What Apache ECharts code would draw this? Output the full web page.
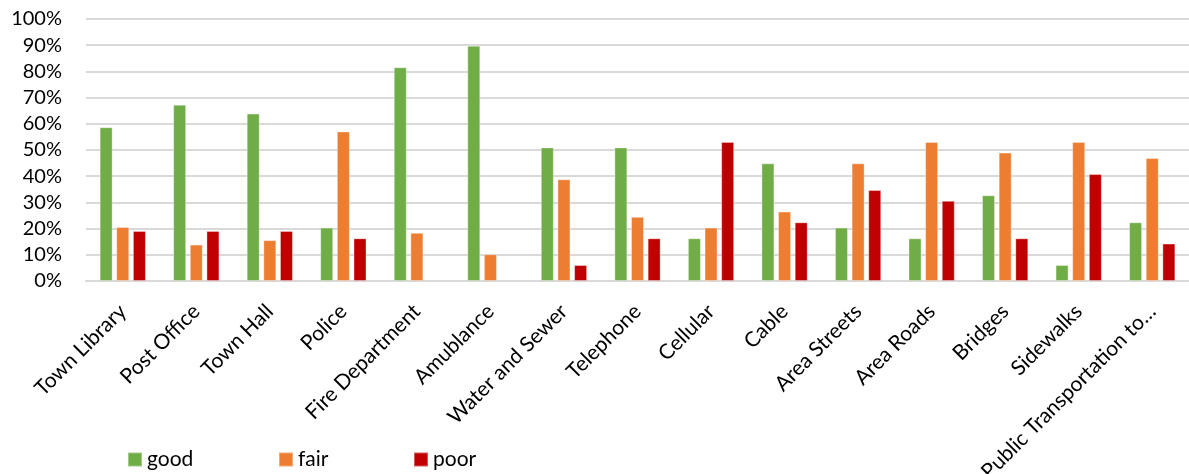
<!DOCTYPE html>
<html>
<head>
<meta charset="utf-8">
<script src="https://cdn.jsdelivr.net/npm/echarts@6/dist/echarts.min.js"></script>
<style>
html,body{margin:0;padding:0;background:#fff;}
#chart{width:1189px;height:474px;}
</style>
</head>
<body>
<div id="chart"></div>
<script>
const categories = ["Town Library","Post Office","Town Hall","Police","Fire Department","Amublance","Water and Sewer","Telephone","Cellular","Cable","Area Streets","Area Roads","Bridges","Sidewalks","Public Transportation to…"];
const good = [58.7,67.3,63.9,20.4,81.6,89.8,51.0,51.0,16.3,44.9,20.4,16.3,32.7,6.1,22.4];
const fair = [20.6,13.9,15.6,57.1,18.4,10.2,38.8,24.5,20.4,26.5,44.9,53.1,49.0,53.1,46.9];
const poor = [19.1,19.1,19.1,16.3,null,null,6.1,16.3,53.1,22.4,34.7,30.6,16.3,40.8,14.3];
const yTicks = [0,10,20,30,40,50,60,70,80,90,100];

const chart = echarts.init(document.getElementById('chart'));
const font = 'Lato, "Open Sans", sans-serif';
const mk = (name, data, color) => ({
  name, type: 'bar', data, barWidth: 13, barGap: '28%',
  itemStyle: { color, borderColor: 'rgba(255,255,255,0.35)', borderWidth: 1 }
});
const legendItem = (name, left) => ({
  data: [name], left, top: 449, padding: 0, itemWidth: 14, itemHeight: 14, itemGap: 0,
  icon: 'rect', textStyle: { fontFamily: font, fontSize: 21, color: '#000' }
});
chart.setOption({
  animation: false,
  grid: { left: 86, right: 0, top: 19, bottom: 193, containLabel: false, outerBoundsMode: 'none' },
  legend: [legendItem('good', 127), legendItem('fair', 278), legendItem('poor', 413)],
  xAxis: {
    type: 'category', data: categories,
    axisLine: { lineStyle: { color: '#d9d9d9', width: 2 } },
    axisTick: { show: false },
    axisLabel: { rotate: 45, interval: 0, fontFamily: font, fontSize: 21, color: '#000', margin: 27 }
  },
  yAxis: {
    type: 'value', min: yTicks[0], max: yTicks[yTicks.length-1], interval: 10,
    axisLine: { show: false }, axisTick: { show: false },
    splitLine: { lineStyle: { color: '#d9d9d9', width: 2 } },
    axisLabel: { formatter: v => v + '%', fontFamily: font, fontSize: 20, color: '#000', margin: 24 }
  },
  series: [mk('good', good, '#70ad47'), mk('fair', fair, '#ed7d31'), mk('poor', poor, '#c00000')]
});
</script>
</body>
</html>
